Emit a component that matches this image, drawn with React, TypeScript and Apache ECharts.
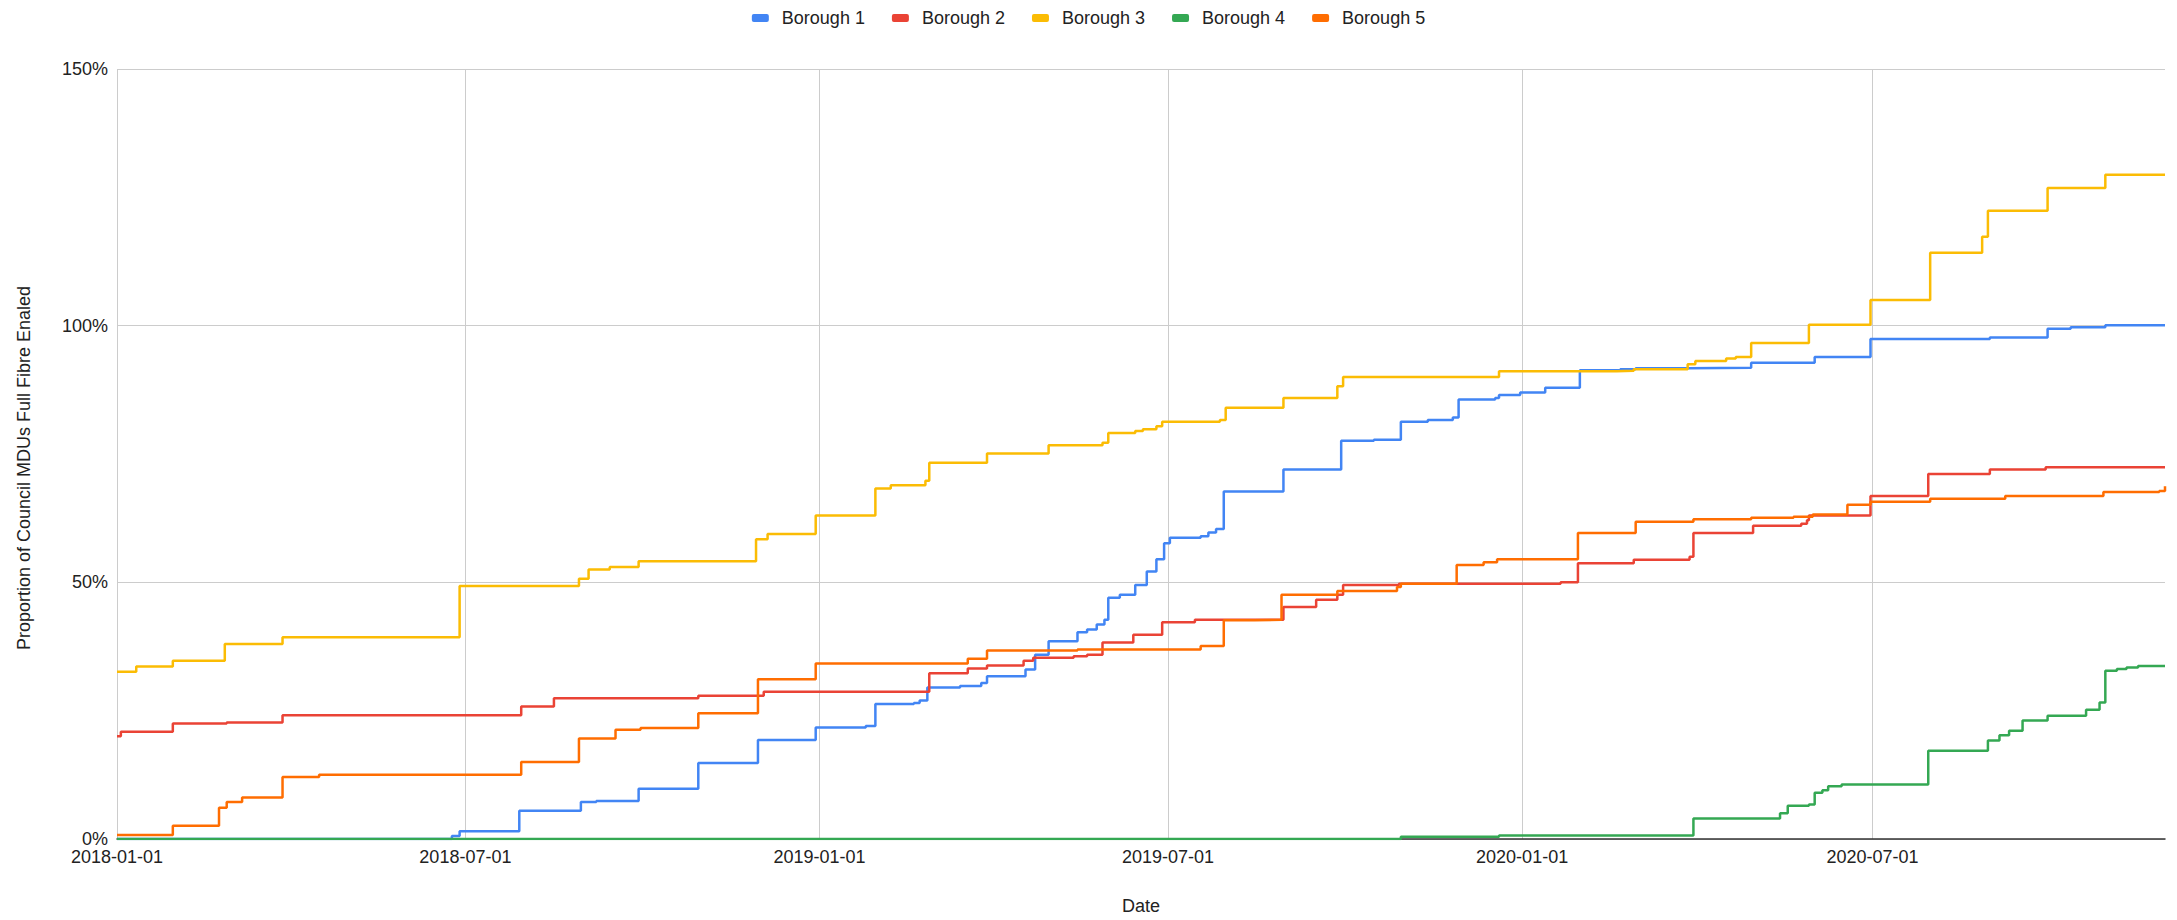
import React, { useEffect, useRef } from "react";
import * as echarts from "echarts";

const SERIES_NAMES = ["Borough 1", "Borough 2", "Borough 3", "Borough 4", "Borough 5"];
const COLORS = ["#4285F4", "#EA4335", "#FBBC04", "#34A853", "#FF6D01"];
const X_TICKS = ["2018-01-01", "2018-07-01", "2019-01-01", "2019-07-01", "2020-01-01", "2020-07-01"];
const X_MIN = "2018-01-01";
const X_MAX = "2020-11-30";
const Y_MIN = 0;
const Y_MAX = 150;
const Y_STEP = 50;

const borough1: [string, number][] = [
  ["2018-01-01", 0], ["2018-06-24", 0.6], ["2018-06-28", 1.5], ["2018-07-29", 5.5],
  ["2018-08-30", 7.2], ["2018-09-07", 7.4], ["2018-09-29", 9.8], ["2018-10-30", 14.8],
  ["2018-11-30", 19.3], ["2018-12-30", 21.7], ["2019-01-25", 22.0], ["2019-01-30", 26.3],
  ["2019-02-19", 26.5], ["2019-02-22", 27.0], ["2019-02-26", 29.5], ["2019-03-15", 29.8],
  ["2019-03-26", 30.4], ["2019-03-29", 31.7], ["2019-04-18", 33.0], ["2019-04-23", 35.9],
  ["2019-04-30", 38.5], ["2019-05-15", 40.3], ["2019-05-20", 40.8], ["2019-05-25", 41.8],
  ["2019-05-29", 42.7], ["2019-05-31", 47.0], ["2019-06-06", 47.6], ["2019-06-14", 49.5],
  ["2019-06-20", 52.1], ["2019-06-25", 54.5], ["2019-06-29", 57.6], ["2019-07-02", 58.7],
  ["2019-07-18", 59.0], ["2019-07-22", 59.7], ["2019-07-26", 60.4], ["2019-07-30", 67.7],
  ["2019-08-30", 72.0], ["2019-09-29", 77.6], ["2019-10-16", 77.8], ["2019-10-30", 81.3],
  ["2019-11-13", 81.6], ["2019-11-26", 82.1], ["2019-11-29", 85.6], ["2019-12-18", 85.9],
  ["2019-12-20", 86.5], ["2019-12-31", 87.0], ["2020-01-13", 87.9], ["2020-01-31", 91.3],
  ["2020-02-21", 91.5], ["2020-02-29", 91.7], ["2020-03-27", 91.8], ["2020-04-29", 92.8],
  ["2020-06-01", 93.9], ["2020-06-30", 97.4], ["2020-08-31", 97.7], ["2020-09-30", 99.4],
  ["2020-10-12", 99.7], ["2020-10-30", 100.1], ["2020-11-30", 100.1],
];

const borough2: [string, number][] = [
  ["2018-01-01", 20.0], ["2018-01-03", 20.9], ["2018-01-30", 22.5], ["2018-02-27", 22.7],
  ["2018-03-28", 24.1], ["2018-07-30", 25.8], ["2018-08-16", 27.4], ["2018-10-30", 27.9],
  ["2018-12-03", 28.7], ["2019-02-27", 32.3], ["2019-03-19", 33.2], ["2019-03-29", 33.8],
  ["2019-04-17", 34.7], ["2019-04-22", 35.3], ["2019-05-13", 35.6], ["2019-05-20", 35.9],
  ["2019-05-28", 38.3], ["2019-06-13", 39.8], ["2019-06-28", 42.2], ["2019-07-15", 42.7],
  ["2019-08-30", 45.2], ["2019-09-16", 46.6], ["2019-09-27", 47.6], ["2019-09-30", 49.5],
  ["2019-10-29", 49.7], ["2020-01-21", 50.0], ["2020-01-30", 53.7], ["2020-02-28", 54.4],
  ["2020-03-28", 55.0], ["2020-03-30", 59.6], ["2020-04-30", 61.0], ["2020-05-25", 61.4],
  ["2020-05-28", 62.1], ["2020-05-29", 63.0], ["2020-06-30", 66.8], ["2020-07-30", 71.1],
  ["2020-08-31", 72.0], ["2020-09-29", 72.4], ["2020-11-30", 72.4],
];

const borough3: [string, number][] = [
  ["2018-01-01", 32.6], ["2018-01-11", 33.6], ["2018-01-30", 34.7], ["2018-02-26", 38.0],
  ["2018-03-28", 39.3], ["2018-06-28", 49.3], ["2018-08-29", 50.7], ["2018-09-03", 52.5],
  ["2018-09-14", 53.0], ["2018-09-29", 54.1], ["2018-11-29", 58.4], ["2018-12-05", 59.4],
  ["2018-12-30", 63.0], ["2019-01-30", 68.3], ["2019-02-07", 68.9], ["2019-02-25", 69.8],
  ["2019-02-27", 73.3], ["2019-03-29", 75.1], ["2019-04-30", 76.7], ["2019-05-28", 77.2],
  ["2019-05-31", 79.1], ["2019-06-14", 79.5], ["2019-06-18", 79.8], ["2019-06-25", 80.4],
  ["2019-06-28", 81.3], ["2019-07-28", 81.6], ["2019-07-31", 84.0], ["2019-08-30", 85.9],
  ["2019-09-27", 88.2], ["2019-09-30", 90.0], ["2019-12-20", 91.1], ["2020-02-19", 91.2],
  ["2020-02-28", 91.5], ["2020-03-27", 92.5], ["2020-03-31", 93.1], ["2020-04-16", 93.6],
  ["2020-04-21", 93.9], ["2020-04-29", 96.6], ["2020-05-29", 100.2], ["2020-06-30", 105.0],
  ["2020-07-31", 114.2], ["2020-08-27", 117.3], ["2020-08-30", 122.4], ["2020-09-30", 126.8],
  ["2020-10-30", 129.4], ["2020-11-30", 129.4],
];

const borough4: [string, number][] = [
  ["2018-01-01", 0], ["2019-10-30", 0.45], ["2019-12-20", 0.7], ["2020-03-30", 4.0],
  ["2020-05-14", 5.0], ["2020-05-18", 6.5], ["2020-05-29", 6.7], ["2020-06-01", 9.0],
  ["2020-06-05", 9.5], ["2020-06-08", 10.3], ["2020-06-15", 10.6], ["2020-07-30", 17.2],
  ["2020-08-30", 19.2], ["2020-09-05", 20.2], ["2020-09-10", 21.1], ["2020-09-17", 23.1],
  ["2020-09-30", 24.0], ["2020-10-20", 25.2], ["2020-10-27", 26.6], ["2020-10-30", 32.8],
  ["2020-11-05", 33.1], ["2020-11-10", 33.4], ["2020-11-16", 33.7], ["2020-11-30", 33.7],
];

const borough5: [string, number][] = [
  ["2018-01-01", 0.8], ["2018-01-30", 2.6], ["2018-02-23", 6.1], ["2018-02-27", 7.2],
  ["2018-03-07", 8.1], ["2018-03-28", 12.1], ["2018-04-16", 12.5], ["2018-07-30", 15.0],
  ["2018-08-29", 19.6], ["2018-09-17", 21.3], ["2018-09-30", 21.6], ["2018-10-30", 24.5],
  ["2018-11-30", 31.1], ["2018-12-30", 34.2], ["2019-03-19", 35.1], ["2019-03-29", 36.7],
  ["2019-05-15", 36.9], ["2019-07-18", 37.6], ["2019-07-30", 42.6], ["2019-08-15", 42.7],
  ["2019-08-29", 47.6], ["2019-09-27", 48.3], ["2019-10-28", 49.1], ["2019-10-30", 49.7],
  ["2019-11-28", 53.4], ["2019-12-12", 53.9], ["2019-12-19", 54.5], ["2020-01-30", 59.6],
  ["2020-02-29", 61.8], ["2020-03-30", 62.3], ["2020-04-29", 62.6], ["2020-05-21", 62.8],
  ["2020-05-31", 63.2], ["2020-06-18", 65.1], ["2020-06-30", 65.7], ["2020-07-31", 66.3],
  ["2020-09-08", 66.8], ["2020-10-29", 67.6], ["2020-11-27", 67.8], ["2020-11-30", 68.7],
];

const ALL_SERIES = [borough1, borough2, borough3, borough4, borough5];

const FONT = 'Arial, "Liberation Sans", Helvetica, sans-serif';
const TEXT_COLOR = "#222222";

const toTime = (d: string) => Date.parse(d + "T00:00:00Z");
const fmtDate = (v: number) => new Date(v).toISOString().slice(0, 10);

export default function App() {
  const ref = useRef<HTMLDivElement>(null);

  useEffect(() => {
    document.body.style.margin = "0";
    document.body.style.overflow = "hidden";
    if (!ref.current) return;
    const chart = echarts.init(ref.current, undefined, { renderer: "svg" });
    const tickValues = X_TICKS.map(toTime);

    chart.setOption({
      animation: false,
      backgroundColor: "#ffffff",
      textStyle: { fontFamily: FONT },
      color: COLORS,
      legend: {
        data: SERIES_NAMES,
        top: 4,
        left: "center",
        icon: "roundRect",
        itemWidth: 17,
        itemHeight: 8,
        itemGap: 27,
        textStyle: { fontSize: 18, color: TEXT_COLOR, fontFamily: FONT, padding: [0, 0, 0, 8] },
      },
      grid: { left: 117, right: 12, top: 69, bottom: 77, containLabel: false },
      xAxis: {
        type: "value",
        min: toTime(X_MIN),
        max: toTime(X_MAX),
        name: "Date",
        nameLocation: "middle",
        nameGap: 58,
        nameTextStyle: { fontSize: 18, color: TEXT_COLOR, fontFamily: FONT },
        axisLine: { show: true, lineStyle: { color: "#333333", width: 1.5 } },
        axisTick: { show: false, customValues: tickValues },
        axisLabel: {
          customValues: tickValues,
          formatter: (v: number) => fmtDate(v),
          fontSize: 18,
          color: TEXT_COLOR,
          fontFamily: FONT,
          margin: 9,
        },
        splitLine: { show: true, lineStyle: { color: "#cccccc", width: 1 } },
      },
      yAxis: {
        type: "value",
        min: Y_MIN,
        max: Y_MAX,
        interval: Y_STEP,
        name: "Proportion of Council MDUs Full Fibre Enaled",
        nameLocation: "middle",
        nameGap: 84,
        nameTextStyle: { fontSize: 18, color: TEXT_COLOR, fontFamily: FONT, padding: [0, 28, 0, 0] },
        axisLine: { show: false },
        axisTick: { show: false },
        axisLabel: {
          formatter: "{value}%",
          fontSize: 18,
          color: TEXT_COLOR,
          fontFamily: FONT,
          margin: 9,
        },
        splitLine: { show: true, lineStyle: { color: "#cccccc", width: 1 } },
      },
      series: ALL_SERIES.map((pts, i) => ({
        name: SERIES_NAMES[i],
        type: "line",
        step: "end",
        showSymbol: false,
        symbol: "none",
        lineStyle: { width: 2.5, color: COLORS[i] },
        itemStyle: { color: COLORS[i] },
        data: pts.map(([d, v]) => [toTime(d), v]),
      })),
    });

    return () => chart.dispose();
  }, []);

  return <div ref={ref} style={{ width: 2177, height: 920 }} />;
}
